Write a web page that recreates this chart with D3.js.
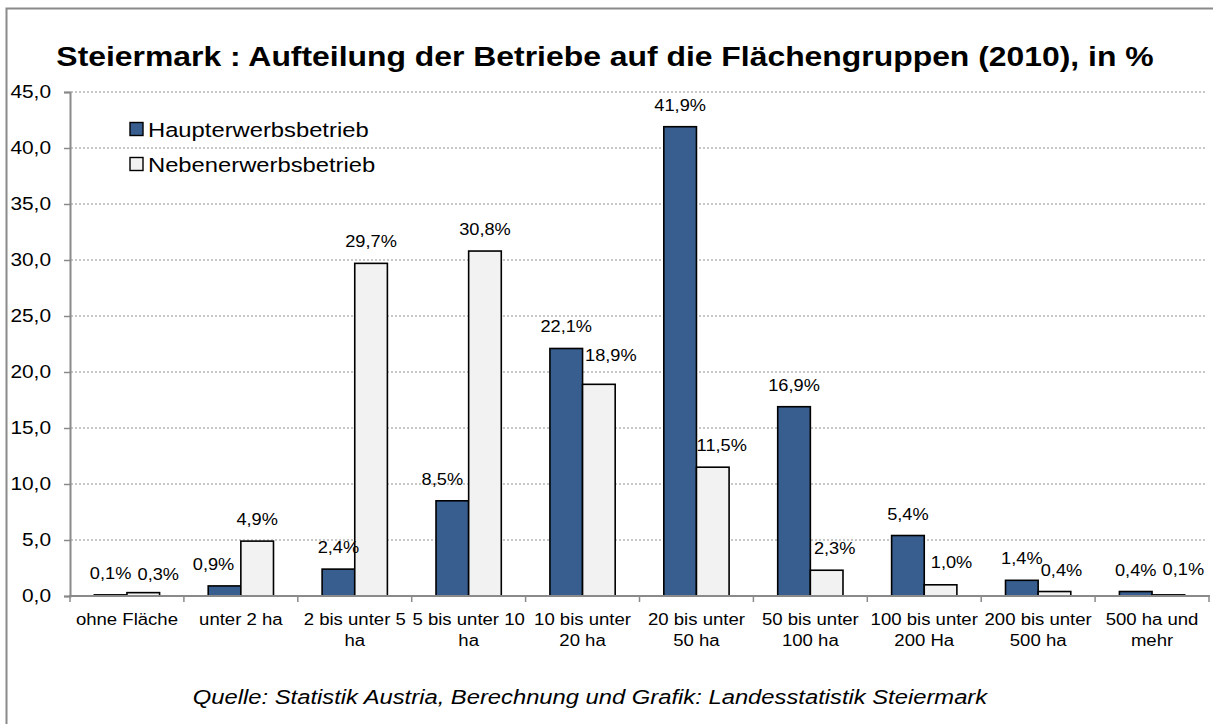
<!DOCTYPE html>
<html>
<head>
<meta charset="utf-8">
<script src="https://cdn.jsdelivr.net/npm/d3@7"></script>
<style>
  body { margin: 0; background: #fff; }
  svg { display: block; font-family: "Liberation Sans", Arial, sans-serif; }
</style>
</head>
<body>
<svg id="chart" width="1213" height="724"></svg>
<script>
// categories (line breaks as in the original)
var categories = [
  ["ohne Fläche"],
  ["unter 2 ha"],
  ["2 bis unter 5", "ha"],
  ["5 bis unter 10", "ha"],
  ["10 bis unter", "20 ha"],
  ["20 bis unter", "50 ha"],
  ["50 bis unter", "100 ha"],
  ["100 bis unter", "200 Ha"],
  ["200 bis unter", "500 ha"],
  ["500 ha und", "mehr"]
];
var seriesNames = ["Haupterwerbsbetrieb", "Nebenerwerbsbetrieb"];
var haupt = [0.1, 0.9, 2.4, 8.5, 22.1, 41.9, 16.9, 5.4, 1.4, 0.4];
var neben = [0.3, 4.9, 29.7, 30.8, 18.9, 11.5, 2.3, 1.0, 0.4, 0.1];
var yTicks = [0, 5, 10, 15, 20, 25, 30, 35, 40, 45];

// small label nudges, like the hand-moved labels in the original
var hauptShift = [0, -11, 0, -10, 0, 0, 0, 0, 0, 0];
var nebenShift = [15, 0, 0, 0, 12, 9, 8, 11, 7, 15];
var nebenLift  = [-3, 0, 0, 0, 7, 0, 0, 1, 0, 4];

var colors = ["#375E8F", "#F2F2F2"];

// the original picture is a bit wider than tall, text included
var SX = 1.16;
function stretch(sel) {
  sel.each(function() {
    var t = d3.select(this);
    var cx = +t.attr("x") || 0;
    t.attr("transform", "translate(" + cx + ",0) scale(" + SX + ",1) translate(" + (-cx) + ",0)");
  });
}

var svg = d3.select("#chart");

// outer frame (right and bottom edges fall outside the picture)
svg.append("path")
  .attr("d", "M6.5,730 V8.5 H1220")
  .attr("fill", "none")
  .attr("stroke", "#8a8a8a")
  .attr("stroke-width", 2);

svg.append("text")
  .attr("x", 605).attr("y", 66)
  .attr("text-anchor", "middle")
  .style("font-size", "27.5px")
  .style("font-weight", "bold")
  .text("Steiermark : Aufteilung der Betriebe auf die Flächengruppen (2010), in %")
  .call(stretch);

var x = d3.scaleBand()
  .domain(d3.range(categories.length))
  .range([70, 1209]);

var xs = d3.scaleBand()
  .domain([0, 1])
  .range([0, x.bandwidth()])
  .paddingOuter(0.745);

var y = d3.scaleLinear()
  .domain([0, 45])
  .range([596, 92]);

var fmt = function(v) { return d3.format(".1f")(v).replace(".", ","); };

// gridlines
svg.append("g")
  .selectAll("line")
  .data(yTicks.filter(function(d) { return d > 0; }))
  .enter().append("line")
  .attr("x1", 71).attr("x2", 1206)
  .attr("y1", function(d) { return y(d); })
  .attr("y2", function(d) { return y(d); })
  .attr("stroke", "#8f8f8f")
  .attr("stroke-width", 1.2)
  .attr("stroke-dasharray", "2,2");

// y axis
var yAxis = svg.append("g")
  .attr("transform", "translate(70,0)")
  .call(d3.axisLeft(y).tickValues(yTicks).tickSize(6).tickPadding(13).tickFormat(fmt));
yAxis.select(".domain").attr("stroke", "#8a8a8a").attr("stroke-width", 2);
yAxis.selectAll(".tick line").attr("stroke", "#8a8a8a").attr("stroke-width", 1.5);
yAxis.selectAll("text")
  .style("font-size", "18px")
  .style("font-family", "'Liberation Sans', Arial, sans-serif")
  .attr("fill", "#000")
  .call(stretch);

// bars
var data = [];
categories.forEach(function(c, i) {
  data.push({ cat: i, s: 0, v: haupt[i] });
  data.push({ cat: i, s: 1, v: neben[i] });
});

svg.append("g")
  .selectAll("rect")
  .data(data)
  .enter().append("rect")
  .attr("x", function(d) { return x(d.cat) + xs(d.s); })
  .attr("width", xs.bandwidth())
  .attr("y", function(d) { return y(d.v); })
  .attr("height", function(d) { return y(0) - y(d.v); })
  .attr("fill", function(d) { return colors[d.s]; })
  .attr("stroke", "#000")
  .attr("stroke-width", 1.6);

// x axis
svg.append("line")
  .attr("x1", 69).attr("x2", 1210)
  .attr("y1", y(0)).attr("y2", y(0))
  .attr("stroke", "#8a8a8a").attr("stroke-width", 2);

svg.append("g")
  .selectAll("line")
  .data(d3.range(categories.length + 1))
  .enter().append("line")
  .attr("x1", function(i) { return 70 + i * x.step(); })
  .attr("x2", function(i) { return 70 + i * x.step(); })
  .attr("y1", y(0)).attr("y2", y(0) + 6)
  .attr("stroke", "#8a8a8a").attr("stroke-width", 1.5);

var xl = svg.append("g")
  .selectAll("text")
  .data(categories)
  .enter().append("text")
  .attr("text-anchor", "middle")
  .attr("x", function(c, i) { return x(i) + x.bandwidth() / 2; })
  .attr("y", 625)
  .style("font-size", "16px");
xl.selectAll("tspan")
  .data(function(c) { return c; })
  .enter().append("tspan")
  .attr("x", function() { return d3.select(this.parentNode).attr("x"); })
  .attr("dy", function(t, j) { return j ? 21 : 0; })
  .text(function(t) { return t; });
xl.call(stretch);

// value labels
svg.append("g")
  .selectAll("text")
  .data(data)
  .enter().append("text")
  .attr("text-anchor", "middle")
  .attr("x", function(d) {
    var shift = d.s ? nebenShift[d.cat] : hauptShift[d.cat];
    return x(d.cat) + xs(d.s) + xs.bandwidth() / 2 + shift;
  })
  .attr("y", function(d) {
    var lift = d.s ? nebenLift[d.cat] : 0;
    return y(d.v) - 16 - lift;
  })
  .style("font-size", "15.7px")
  .text(function(d) { return fmt(d.v) + "%"; })
  .call(stretch);

// legend
var leg = svg.append("g")
  .selectAll("g")
  .data(seriesNames)
  .enter().append("g")
  .attr("transform", function(d, i) { return "translate(130," + (129 + i * 35) + ")"; });
leg.append("rect")
  .attr("x", 0).attr("y", -6.5)
  .attr("width", 13).attr("height", 13)
  .attr("fill", function(d, i) { return colors[i]; })
  .attr("stroke", "#000").attr("stroke-width", 1.4);
leg.append("text")
  .attr("x", 18).attr("y", 7.5)
  .style("font-size", "20.5px")
  .text(function(d) { return d; })
  .call(stretch);

// source
svg.append("text")
  .attr("x", 590).attr("y", 704)
  .attr("text-anchor", "middle")
  .style("font-size", "20.5px")
  .style("font-style", "italic")
  .text("Quelle: Statistik Austria, Berechnung und Grafik: Landesstatistik Steiermark")
  .call(stretch);
</script>
</body>
</html>
